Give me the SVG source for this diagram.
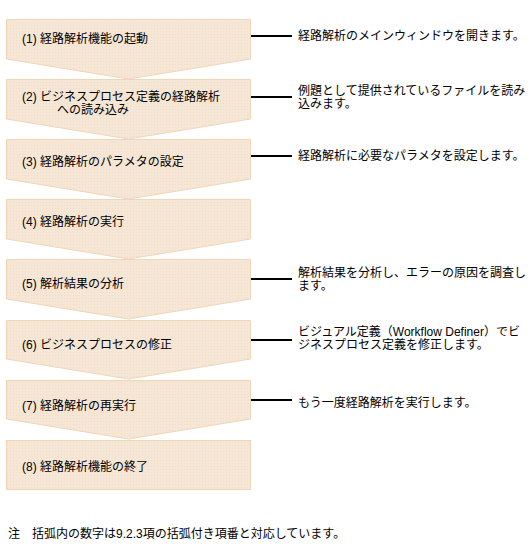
<svg xmlns="http://www.w3.org/2000/svg" width="531" height="556" viewBox="0 0 531 556">
<defs>
<pattern id="dots" width="3" height="3" patternUnits="userSpaceOnUse">
<rect width="3" height="3" fill="#F6E6D6"/>
<rect x="1" y="1" width="1" height="1" fill="#F1DCC6"/>
</pattern>
<style>
.step{fill:url(#dots);stroke:#F0D6B8;stroke-width:1}
.t{font-family:"Liberation Sans","Noto Sans CJK JP",sans-serif;font-size:12px;fill:#000}
.c{stroke:#000;stroke-width:2;fill:none}
</style>
</defs>
<rect width="531" height="556" fill="#fff"/>
<g id="step1"><path class="step" d="M6.5,19.5 H250.5 V59 L128.5,79 L6.5,59 Z"/><text class="t" x="22" y="43">(1) 経路解析機能の起動</text></g>
<g id="step2"><path class="step" d="M6.5,79.5 H250.5 V119 L128.5,139 L6.5,119 Z"/><text class="t" x="22" y="101">(2) ビジネスプロセス定義の経路解析</text><text class="t" x="57" y="114">への読み込み</text></g>
<g id="step3"><path class="step" d="M6.5,139.5 H250.5 V179 L128.5,199 L6.5,179 Z"/><text class="t" x="22" y="166">(3) 経路解析のパラメタの設定</text></g>
<g id="step4"><path class="step" d="M6.5,199.5 H250.5 V239 L128.5,259 L6.5,239 Z"/><text class="t" x="22" y="226">(4) 経路解析の実行</text></g>
<g id="step5"><path class="step" d="M6.5,259.5 H250.5 V299 L128.5,319 L6.5,299 Z"/><text class="t" x="22" y="288">(5) 解析結果の分析</text></g>
<g id="step6"><path class="step" d="M6.5,320.5 H250.5 V359 L128.5,379 L6.5,359 Z"/><text class="t" x="22" y="348.5">(6) ビジネスプロセスの修正</text></g>
<g id="step7"><path class="step" d="M6.5,380.5 H250.5 V419 L128.5,439 L6.5,419 Z"/><text class="t" x="22" y="409.5">(7) 経路解析の再実行</text></g>
<g id="step8"><rect class="step" x="6.5" y="440.5" width="244" height="49"/><text class="t" x="22" y="470.5">(8) 経路解析機能の終了</text></g>
<g id="connectors">
<line class="c" x1="251" y1="36" x2="292" y2="36"/>
<line class="c" x1="251" y1="97" x2="292" y2="97"/>
<line class="c" x1="251" y1="156" x2="292" y2="156"/>
<line class="c" x1="251" y1="279" x2="292" y2="279"/>
<line class="c" x1="251" y1="340" x2="292" y2="340"/>
<line class="c" x1="251" y1="400" x2="292" y2="400"/>
</g>
<g id="notes">
<text class="t" x="298" y="39.5">経路解析のメインウィンドウを開きます。</text>
<text class="t" x="298" y="95">例題として提供されているファイルを読み</text>
<text class="t" x="298" y="108">込みます。</text>
<text class="t" x="298" y="159.5">経路解析に必要なパラメタを設定します。</text>
<text class="t" x="298" y="277">解析結果を分析し、エラーの原因を調査し</text>
<text class="t" x="298" y="290">ます。</text>
<text class="t" x="298" y="336">ビジュアル定義（Workflow Definer）でビ</text>
<text class="t" x="298" y="349">ジネスプロセス定義を修正します。</text>
<text class="t" x="298" y="406.5">もう一度経路解析を実行します。</text>
</g>
<text class="t" x="8" y="538">注　括弧内の数字は9.2.3項の括弧付き項番と対応しています。</text>
</svg>
